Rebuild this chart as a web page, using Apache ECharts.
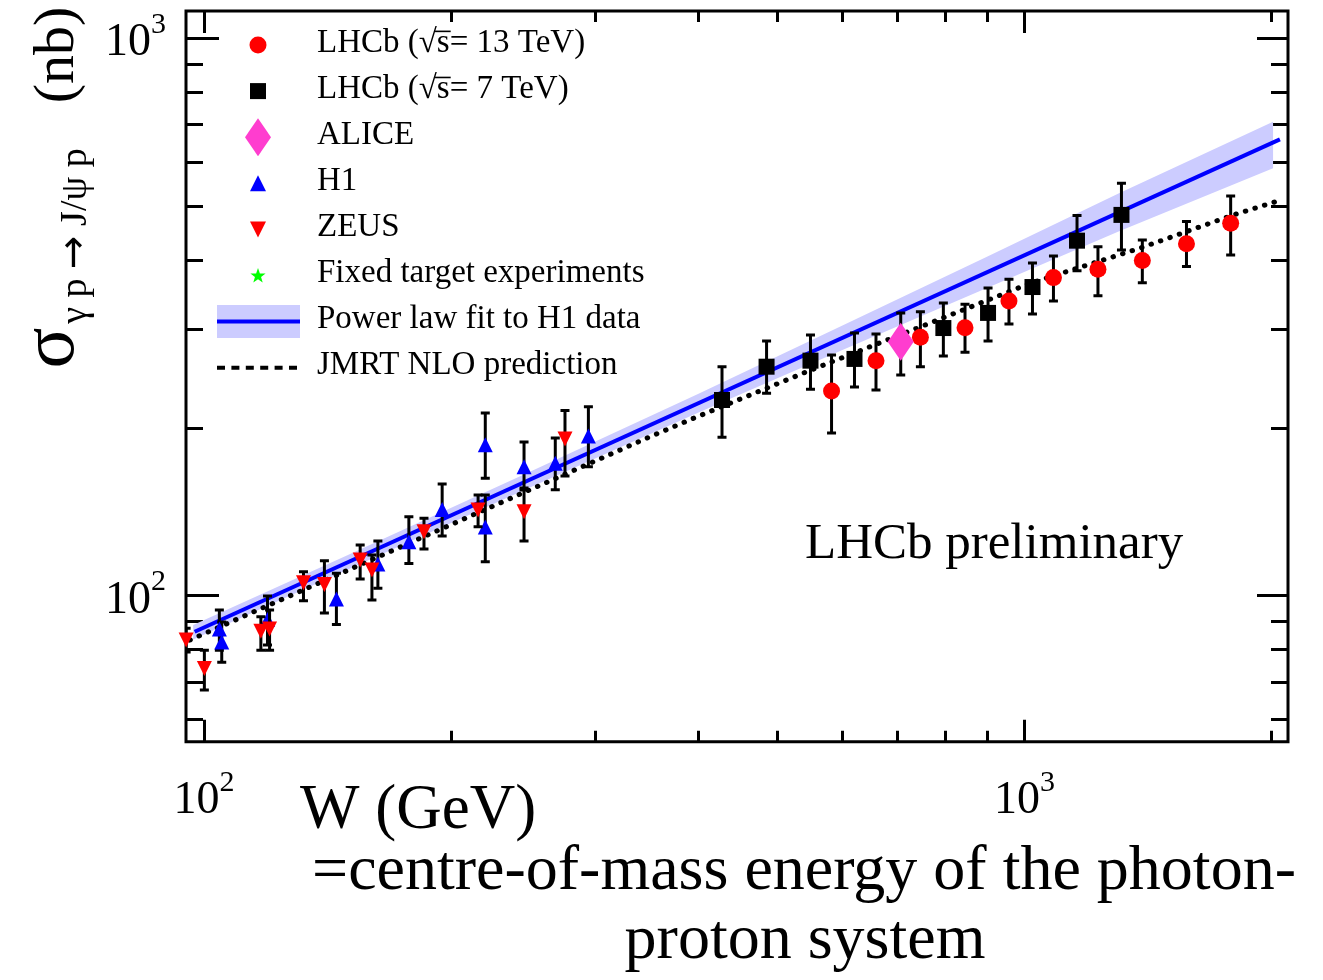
<!DOCTYPE html>
<html><head><meta charset="utf-8">
<script src="https://cdn.jsdelivr.net/npm/echarts@6/dist/echarts.min.js"></script>
<style>html,body{margin:0;padding:0;background:#fff}#c{width:1323px;height:980px}</style>
</head><body><div id="c"></div>
<script>
const F = "'Liberation Serif','Times New Roman',serif";

// ---- axes ----
const xRange = [95.07, 2095];
const yRange = [54.66, 1120];
const xMajorTicks = [100, 1000];
const xMinorTicks = [200, 300, 400, 500, 600, 700, 800, 900, 2000];
const yMajorTicks = [100, 1000];
const yMinorTicks = [60, 70, 80, 90, 200, 300, 400, 500, 600, 700, 800, 900];
const tickExponent = {100: '2', 1000: '3'};

// ---- LHCb sqrt(s)=13 TeV ----
const lhcb13W  = [581.9, 659.2, 746.7, 846.3, 957.4, 1084.7, 1229, 1392, 1575.6, 1783.6];
const lhcb13S  = [232.9, 264.0, 290.7, 302.5, 337.9, 372.1, 385.2, 399.2, 428.1, 465.9];
const lhcb13Lo = [195.8, 233.9, 257.5, 273.3, 307.2, 337.9, 345.3, 364.4, 389.4, 408.7];
const lhcb13Hi = [270.3, 294.8, 323.3, 333.2, 369.7, 407.0, 422.9, 434.7, 469.0, 521.5];

// ---- LHCb sqrt(s)=7 TeV ----
const lhcb7W  = [427.9, 484.9, 548.5, 620.6, 796.4, 902.8, 1022.7, 1158.9, 1312.8];
const lhcb7S  = [224.4, 257.5, 264.0, 265.9, 302.1, 321.6, 357.9, 433.5, 482.2];
const lhcb7Lo = [192.3, 230.7, 234.7, 236.7, 269.2, 286.3, 320.2, 383.0, 417.3];
const lhcb7Hi = [257.5, 286.3, 293.6, 296.0, 335.0, 356.5, 395.4, 480.8, 549.6];

// ---- ALICE ----
const aliceW  = [706.6];
const aliceS  = [285.5];
const aliceLo = [248.9];
const aliceHi = [321.6];

// ---- H1 ----
const h1W  = [104.4, 105.1, 119.5, 145.0, 162.9, 177.7, 195.1, 220.2, 220.2, 245.5, 268.0, 294.1];
const h1S  = [87.1, 82.5, 90.6, 98.6, 113.9, 124.9, 142.7, 186.5, 132.7, 170.3, 172.7, 193.4];
const h1Lo = [79.8, 75.9, 81.5, 88.7, 103.1, 114.2, 127.9, 162.3, 115.0, 154.7, 154.9, 170.3];
const h1Hi = [94.2, 89.6, 99.8, 109.7, 125.3, 138.5, 158.6, 212.6, 151.5, 188.6, 191.8, 218.3];

// ---- ZEUS ----
const zeusW  = [95.1, 100.1, 117.3, 120.2, 132.2, 140.2, 155.0, 160.2, 185.4, 215.8, 245.5, 275.4];
const zeusS  = [83.2, 74.0, 86.3, 87.1, 105.4, 104.7, 115.8, 111.1, 130.2, 142.4, 141.4, 191.0];
const zeusLo = [79.2, 67.7, 79.8, 79.8, 97.9, 93.0, 107.1, 98.2, 121.2, 132.9, 125.3, 163.9];
const zeusHi = [87.4, 79.8, 91.6, 94.2, 110.3, 115.5, 123.2, 118.2, 137.6, 151.5, 156.0, 214.8];

// ---- Power law fit to H1 data (line + uncertainty band) ----
const plW = [97.4, 2048];
const plS = [86.1, 659];
const bandW  = [97, 150, 250, 400, 600, 900, 1300, 2009];
const bandLo = [83.4, 111.5, 156.5, 212.8, 275.8, 356.6, 450.0, 584.8];
const bandHi = [88.5, 118.4, 166.9, 230.1, 305.2, 405.7, 526.2, 708.8];

// ---- JMRT NLO prediction ----
const jmrtW = [96.1, 349.7, 394.8, 542.7, 730, 1016.7, 1382, 1797, 2068];
const jmrtS = [83.2, 192.8, 208.0, 252.2, 299.6, 363.6, 420.1, 482.2, 514.3];

// ---- legend ----
const legendLabels = ['LHCb (\u221As= 13 TeV)', 'LHCb (\u221As= 7 TeV)', 'ALICE', 'H1', 'ZEUS',
  'Fixed target experiments', 'Power law fit to H1 data', 'JMRT NLO prediction'];

const chart = echarts.init(document.getElementById('c'), null, {renderer: 'canvas'});

const labelRich = {
  b: {fontSize: 46, fontFamily: F, color: '#000', verticalAlign: 'bottom', lineHeight: 56},
  e: {fontSize: 30, fontFamily: F, color: '#000', verticalAlign: 'top', lineHeight: 30}
};
function fmtTick(v) { return '{b|10}{e|' + (tickExponent[Math.round(v)] || '') + '}'; }

function mkX(pos, ticks, len, labels) {
  return {
    type: 'log', logBase: 10, position: pos, min: xRange[0], max: xRange[1],
    axisLine: {show: false}, splitLine: {show: false}, minorTick: {show: false},
    axisTick: {show: true, inside: true, length: len, customValues: ticks,
      lineStyle: {color: '#000', width: 3}},
    axisLabel: labels ? {show: true, customValues: xMajorTicks, margin: 26, formatter: fmtTick, rich: labelRich}
                      : {show: false}
  };
}
function mkY(pos, ticks, len, labels) {
  return {
    type: 'log', logBase: 10, position: pos, min: yRange[0], max: yRange[1],
    axisLine: {show: false}, splitLine: {show: false}, minorTick: {show: false},
    axisTick: {show: true, inside: true, length: len, customValues: ticks,
      lineStyle: {color: '#000', width: 3}},
    axisLabel: labels ? {show: true, customValues: yMajorTicks, margin: 20, formatter: fmtTick, rich: labelRich}
                      : {show: false}
  };
}

function errData(w, lo, hi) { return w.map((x, i) => [x, lo[i], hi[i]]); }
function pts(w, s) { return w.map((x, i) => [x, s[i]]); }

function renderErr(params, api) {
  const x = api.value(0), lo = api.value(1), hi = api.value(2);
  const a = api.coord([x, hi]), b = api.coord([x, lo]);
  const cw = 4.5;
  const st = {stroke: '#000', lineWidth: 3};
  return {type: 'group', children: [
    {type: 'line', shape: {x1: a[0], y1: a[1], x2: b[0], y2: b[1]}, style: st},
    {type: 'line', shape: {x1: a[0] - cw, y1: a[1], x2: a[0] + cw, y2: a[1]}, style: st},
    {type: 'line', shape: {x1: b[0] - cw, y1: b[1], x2: b[0] + cw, y2: b[1]}, style: st}
  ]};
}
function errSeries(w, lo, hi, z) {
  return {type: 'custom', renderItem: renderErr, data: errData(w, lo, hi),
    encode: {x: 0, y: [1, 2]}, z: z, silent: true, clip: true};
}
function scatter(w, s, symbol, size, color, z, rot) {
  return {type: 'scatter', data: pts(w, s), symbol: symbol, symbolSize: size,
    symbolRotate: rot || 0, itemStyle: {color: color, opacity: 1, borderWidth: 0}, z: z, silent: true};
}

const bandSeries = {
  type: 'custom', z: 1, silent: true,
  data: errData(bandW, bandLo, bandHi),
  encode: {x: 0, y: [1, 2]},
  renderItem: function (params, api) {
    if (params.dataIndex !== 0) return null;
    const up = bandW.map((w, i) => api.coord([w, bandHi[i]]));
    const dn = bandW.map((w, i) => api.coord([w, bandLo[i]])).reverse();
    return {type: 'polygon', shape: {points: up.concat(dn)}, style: {fill: '#ccccff'}};
  }
};

const option = {
  animation: false,
  backgroundColor: '#fff',
  grid: {left: 186, top: 11, right: 35, bottom: 238.3, show: true, borderColor: '#000', borderWidth: 3,
    backgroundColor: 'transparent'},
  xAxis: [mkX('bottom', xMajorTicks, 22, true), mkX('bottom', xMinorTicks, 11, false),
          mkX('top', xMajorTicks, 22, false), mkX('top', xMinorTicks, 11, false)],
  yAxis: [mkY('left', yMajorTicks, 33, true), mkY('left', yMinorTicks, 17, false),
          mkY('right', yMajorTicks, 31, false), mkY('right', yMinorTicks, 17, false)],
  series: [
    bandSeries,
    {type: 'line', data: pts(plW, plS), symbol: 'none', silent: true, z: 2,
      lineStyle: {color: '#0000ff', width: 4}},
    {type: 'line', data: pts(jmrtW, jmrtS), symbol: 'none', silent: true, z: 3,
      lineStyle: {color: '#000', width: 5, type: [0.5, 9.5], cap: 'round'}},
    errSeries(h1W, h1Lo, h1Hi, 4),
    scatter(h1W, h1S, 'triangle', 15, '#0000ff', 5),
    errSeries(zeusW, zeusLo, zeusHi, 6),
    scatter(zeusW, zeusS, 'triangle', 15, '#ff0000', 7, 180),
    errSeries(lhcb7W, lhcb7Lo, lhcb7Hi, 8),
    scatter(lhcb7W, lhcb7S, 'rect', 16, '#000000', 9),
    errSeries(lhcb13W, lhcb13Lo, lhcb13Hi, 10),
    scatter(lhcb13W, lhcb13S, 'circle', 17, '#ff0000', 11),
    errSeries(aliceW, aliceLo, aliceHi, 12),
    scatter(aliceW, aliceS, 'diamond', [26, 38], '#ff3dcf', 13)
  ],
  graphic: []
};

// legend (drawn as graphic elements)
const G = [];
const LX = 258, TX = 317, LFS = 33;
const rowY = legendLabels.map((_, i) => 45 + 46.1 * i);
G.push({type: 'circle', shape: {cx: LX, cy: rowY[0], r: 8.5}, style: {fill: '#ff0000'}});
G.push({type: 'rect', shape: {x: LX - 8, y: rowY[1] - 8, width: 16, height: 16}, style: {fill: '#000'}});
G.push({type: 'polygon', shape: {points: [[LX, rowY[2] - 19], [LX + 13, rowY[2]], [LX, rowY[2] + 19], [LX - 13, rowY[2]]]}, style: {fill: '#ff3dcf'}});
G.push({type: 'polygon', shape: {points: [[LX, rowY[3] - 8], [LX + 8, rowY[3] + 8], [LX - 8, rowY[3] + 8]]}, style: {fill: '#0000ff'}});
G.push({type: 'polygon', shape: {points: [[LX - 8, rowY[4] - 8], [LX + 8, rowY[4] - 8], [LX, rowY[4] + 8]]}, style: {fill: '#ff0000'}});
(function () {
  const p = [];
  for (let k = 0; k < 10; k++) {
    const r = k % 2 === 0 ? 8 : 3.2;
    const a = -Math.PI / 2 + k * Math.PI / 5;
    p.push([LX + r * Math.cos(a), rowY[5] + 0.5 + r * Math.sin(a)]);
  }
  G.push({type: 'polygon', shape: {points: p}, style: {fill: '#00ff00'}});
})();
G.push({type: 'rect', shape: {x: 217, y: rowY[6] - 16.5, width: 83, height: 33}, style: {fill: '#ccccff'}});
G.push({type: 'line', shape: {x1: 217, y1: rowY[6], x2: 300, y2: rowY[6]}, style: {stroke: '#0000ff', lineWidth: 4}});
G.push({type: 'line', shape: {x1: 217, y1: rowY[7], x2: 297, y2: rowY[7]}, style: {stroke: '#000', lineWidth: 4, lineDash: [8, 6.4]}});
legendLabels.forEach((t, i) => {
  G.push({type: 'text', x: TX, y: rowY[i] - 2, style: {text: t, font: LFS + 'px ' + F, fill: '#000',
    textAlign: 'left', verticalAlign: 'middle'}});
});
// radical overline over "s" in the two LHCb entries
(function () {
  const ctx = document.createElement('canvas').getContext('2d');
  ctx.font = LFS + 'px ' + F;
  const w1 = ctx.measureText('LHCb (').width;
  const w2 = ctx.measureText('\u221A').width;
  const w3 = ctx.measureText('s').width;
  [0, 1].forEach(i => {
    const base = rowY[i] - 2 + 0.3375 * LFS;
    const yy = base - 0.69 * LFS;
    G.push({type: 'line', shape: {x1: TX + w1 + w2 * 0.9, y1: yy, x2: TX + w1 + w2 + w3 + 1, y2: yy},
      style: {stroke: '#000', lineWidth: 1.6}});
  });
})();

// y-axis title (rotated)
const rot = Math.PI / 2;
G.push({type: 'text', x: 53, y: 348, rotation: rot, style: {text: '\u03C3', font: '76px ' + F, fill: '#000', textAlign: 'center', verticalAlign: 'middle'}});
G.push({type: 'text', x: 76, y: 236, rotation: rot, style: {
  text: '{t|\u03B3 p }{a|\u2192}{t| J/\u03C8 p}', textAlign: 'center', verticalAlign: 'middle',
  rich: {t: {font: '38px ' + F, fill: '#000', color: '#000'},
         a: {font: '40px "DejaVu Sans"', fill: '#000', color: '#000'}}}});
G.push({type: 'text', x: 58, y: 55, rotation: rot, style: {text: '(nb)', font: '58px ' + F, fill: '#000', textAlign: 'center', verticalAlign: 'middle'}});

// x-axis title and description
G.push({type: 'text', x: 300, y: 811, style: {text: 'W (GeV)', font: '63px ' + F, fill: '#000', textAlign: 'left', verticalAlign: 'middle'}});
G.push({type: 'text', x: 804, y: 872, style: {text: '=centre-of-mass energy of the photon-', font: '64px ' + F, fill: '#000', textAlign: 'center', verticalAlign: 'middle'}});
G.push({type: 'text', x: 805, y: 941, style: {text: 'proton system', font: '64px ' + F, fill: '#000', textAlign: 'center', verticalAlign: 'middle'}});
// annotation
G.push({type: 'text', x: 805, y: 544.5, style: {text: 'LHCb preliminary', font: '51px ' + F, fill: '#000', textAlign: 'left', verticalAlign: 'middle'}});

option.graphic = G;
chart.setOption(option);
</script></body></html>
